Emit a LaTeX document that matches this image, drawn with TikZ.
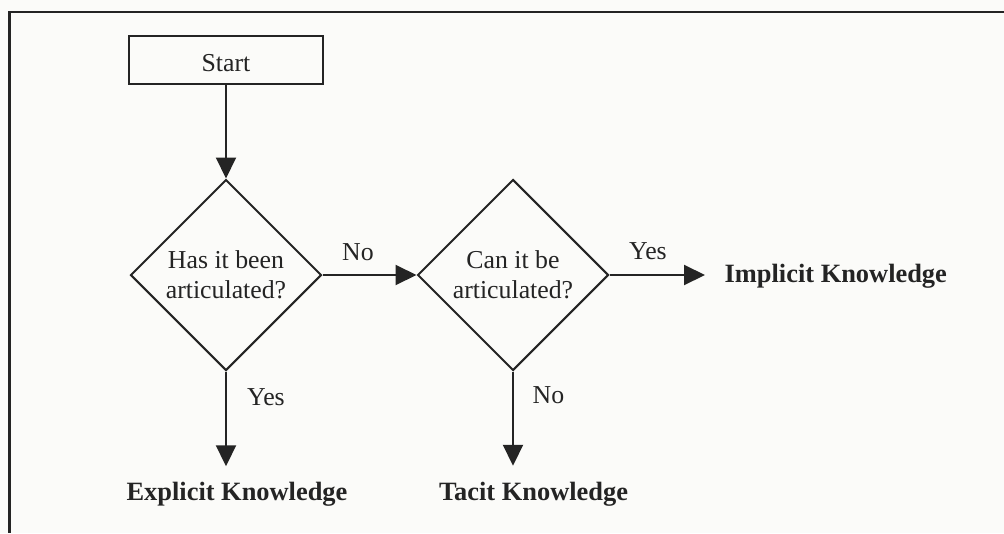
\documentclass[tikz,border=0pt]{standalone}
\usepackage{fontspec}
\setmainfont{Liberation Serif}
\usetikzlibrary{shapes.geometric,arrows.meta}

\definecolor{ink}{HTML}{242424}
\definecolor{paper}{HTML}{FBFBF9}

\tikzset{
  box/.style={draw=ink, line width=2pt, rectangle, minimum width=194pt,
    minimum height=48pt, inner sep=0pt, text=ink,
    font=\fontsize{25.8}{30}\selectfont},
  decision/.style={draw=ink, line width=2pt, diamond, minimum width=191pt,
    minimum height=191pt, inner sep=0pt, align=center, text=ink,
    font=\fontsize{25.8}{30}\selectfont},
  outcome/.style={inner xsep=19.5pt, inner ysep=15.7pt, text=ink,
    font=\fontsize{26.4}{30}\selectfont\bfseries},
  lbl/.style={inner sep=0pt, text=ink, font=\fontsize{25.8}{30}\selectfont},
  flow/.style={draw=ink, line width=2pt,
    -{Triangle[length=21pt, width=20pt]}},
  frameline/.style={draw=ink, line width=2.6pt}
}

\begin{document}
\begin{tikzpicture}[x=1pt, y=-1pt]
  % page area and background
  \fill[paper] (0,0) rectangle (1004,533);
  \useasboundingbox (0,0) rectangle (1004,533);

  % open frame: top and left edges
  \coordinate (fTL) at (9.5,12);
  \coordinate (fTR) at (1004,12);
  \coordinate (fBL) at (9.5,533);
  \draw[frameline] (fTR) -- (fTL) -- (fBL);

  % process steps
  \node[box, text height=22pt, text depth=0pt] (start) at (226,60) {Start};
  \node[decision] (d1) at (226,275) {Has it been\\articulated?};
  \node[decision] (d2) at (513,275) {Can it be\\articulated?};

  % outcomes
  \node[outcome, anchor=base] (expl) at (237,500.5) {Explicit Knowledge};
  \node[outcome, anchor=base] (tacit) at (533.5,500) {Tacit Knowledge};
  \node[outcome, anchor=base west] (impl) at (705,282.5) {Implicit Knowledge};

  % connectors
  \draw[flow] (start.south) -- (d1.north);
  \draw[flow] (d1.east) -- (d2.west);
  \draw[flow] (d2.east) -- (d2.east -| impl.west);
  \draw[flow] (d1.south) -- (d1.south |- expl.north);
  \draw[flow] (d2.south) -- (d2.south |- tacit.north);

  % branch labels
  \node[lbl, anchor=base] (noA) at (358,260) {No};
  \node[lbl, anchor=base] (yesA) at (648,259.5) {Yes};
  \node[lbl, anchor=base] (yesB) at (266,405) {Yes};
  \node[lbl, anchor=base] (noB) at (548.5,403.5) {No};
\end{tikzpicture}
\end{document}
